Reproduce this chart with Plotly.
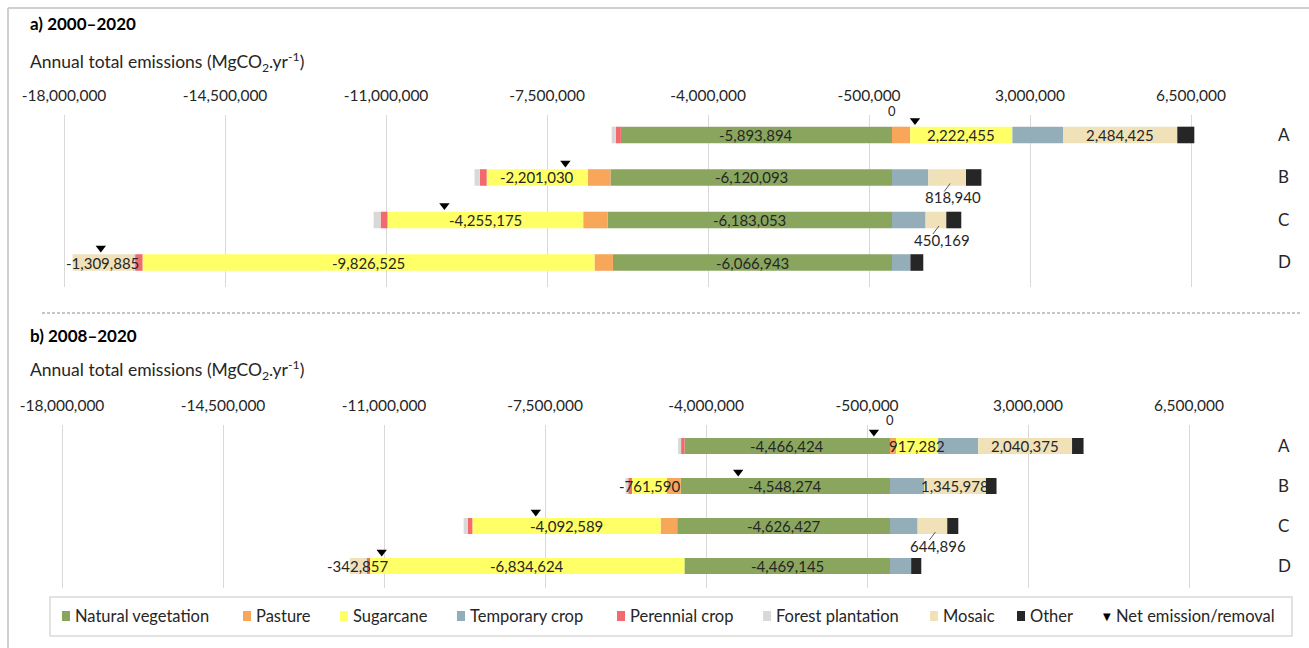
import plotly.graph_objects as go

W, H = 1309, 648

rows = ["A", "B", "C", "D"]
series = ["Natural vegetation", "Pasture", "Sugarcane", "Temporary crop",
          "Perennial crop", "Forest plantation", "Mosaic", "Other"]
colors = ["#8AA65E", "#F7A65A", "#FFFF66", "#93ADB9",
          "#F26A6E", "#D9D9D9", "#F0E1B8", "#262626"]

# Annual emissions by land-use class, 2000–2020 (MgCO2/yr)
natural_a = [-5893894, -6120093, -6183053, -6066943]
pasture_a = [395000, -490000, -530000, -400000]
sugarcane_a = [2222455, -2201030, -4255175, -9826525]
temporary_a = [1100000, 790000, 730000, 400000]
perennial_a = [-110000, -150000, -150000, -160000]
forest_a = [-90000, -115000, -150000, -50000]
mosaic_a = [2484425, 818940, 450169, -1309885]
other_a = [370000, 335000, 326000, 280000]
net_a = [500000, -7100000, -9730000, -17200000]

# Annual emissions by land-use class, 2008–2020 (MgCO2/yr)
natural_b = [-4466424, -4548274, -4626427, -4469145]
pasture_b = [130000, -300000, -360000, 0]
sugarcane_b = [917282, -761590, -4092589, -6834624]
temporary_b = [870000, 740000, 600000, 460000]
perennial_b = [-75000, -80000, -95000, -70000]
forest_b = [-65000, -60000, -95000, -30000]
mosaic_b = [2040375, 1345978, 644896, -342857]
other_b = [250000, 230000, 240000, 220000]
net_b = [-350000, -3300000, -7700000, -11050000]

tick_values = [-18000000, -14500000, -11000000, -7500000,
               -4000000, -500000, 3000000, 6500000]

panel_a = [natural_a, pasture_a, sugarcane_a, temporary_a,
           perennial_a, forest_a, mosaic_a, other_a]
panel_b = [natural_b, pasture_b, sugarcane_b, temporary_b,
           perennial_b, forest_b, mosaic_b, other_b]

FONT = "Lato"
TXT = "#262626"


def py(p):
    """pixel row -> paper y"""
    return 1 - p / H


def px(p):
    """pixel column -> paper x"""
    return p / W


PX_PER_UNIT = 46e-6          # horizontal scale: pixels per MgCO2
X_LEFT, X_RIGHT = 20, 1265   # plot area edges in pixels


def x_range(zero_px):
    return [(X_LEFT - zero_px) / PX_PER_UNIT, (X_RIGHT - zero_px) / PX_PER_UNIT]


panels = [
    dict(data=panel_a, net=net_a, xa="x", ya="y", zero=892,
         ydom=(287, 115), yrange=[3.576, -0.47], width=0.39, tri=0.34,
         title="a) 2000–2020", title_y=24, atitle_y=62, zero_y=111,
         leaders={1, 2}),
    dict(data=panel_b, net=net_b, xa="x2", ya="y2", zero=890,
         ydom=(588, 425), yrange=[3.55, -0.525], width=0.40, tri=0.35,
         title="b) 2008–2020", title_y=335, atitle_y=370, zero_y=420,
         leaders={2}),
]

fig = go.Figure()
annotations = []
shapes = []

for p in panels:
    for name, col, vals in zip(series, colors, p["data"]):
        fig.add_trace(go.Bar(
            x=vals, y=list(range(len(rows))), orientation="h",
            width=p["width"], name=name, marker=dict(color=col, line=dict(width=0)),
            xaxis=p["xa"], yaxis=p["ya"], showlegend=False,
            hovertemplate=name + ": %{x:,}<extra></extra>",
        ))
    fig.add_trace(go.Scatter(
        x=p["net"], y=[i - p["tri"] for i in range(len(rows))], mode="markers",
        marker=dict(symbol="triangle-down", size=9, color="#000000"),
        xaxis=p["xa"], yaxis=p["ya"], showlegend=False,
        name="Net emission/removal", hovertemplate="Net: %{x:,}<extra></extra>",
    ))

    # segment labels for natural vegetation, sugarcane and mosaic
    unit = 1 / PX_PER_UNIT
    row_px = (p["ydom"][0] - p["ydom"][1]) / (p["yrange"][0] - p["yrange"][1])
    for r in range(len(rows)):
        pos, neg = 0, 0
        for s, vals in enumerate(p["data"]):
            v = vals[r]
            if v >= 0:
                start = pos
                pos += v
            else:
                start = neg
                neg += v
            if s not in (0, 2, 6) or v == 0:
                continue
            c = start + v / 2
            label = f"{v:,}"
            if s == 6 and r in p["leaders"]:
                shapes.append(dict(type="line", xref=p["xa"], yref=p["ya"],
                                   x0=c + 3 * unit, y0=r + 6 / row_px,
                                   x1=c - 3 * unit, y1=r + 14 / row_px,
                                   line=dict(color="#595959", width=1)))
                annotations.append(dict(x=c + 6 * unit, y=r + 20 / row_px,
                                        xref=p["xa"], yref=p["ya"], text=label,
                                        showarrow=False, xanchor="center", yanchor="middle",
                                        font=dict(family=FONT, size=15, color=TXT)))
            else:
                annotations.append(dict(x=c, y=r, xref=p["xa"], yref=p["ya"], text=label,
                                        showarrow=False, xanchor="center", yanchor="middle",
                                        font=dict(family=FONT, size=15, color=TXT)))

    # panel headings
    annotations.append(dict(x=px(28), y=py(p["title_y"]), xref="paper", yref="paper",
                            text="<b>" + p["title"] + "</b>", showarrow=False,
                            xanchor="left", yanchor="middle",
                            font=dict(family=FONT, size=17, color="#000000")))
    annotations.append(dict(x=px(28), y=py(p["atitle_y"]), xref="paper", yref="paper",
                            text="Annual total emissions (MgCO<sub>2</sub>.yr<sup>-1</sup>)",
                            showarrow=False, xanchor="left", yanchor="middle",
                            font=dict(family=FONT, size=17.5, color=TXT)))
    annotations.append(dict(x=0, y=py(p["zero_y"]), xref=p["xa"], yref="paper",
                            text="0", showarrow=False, xanchor="center", yanchor="middle",
                            font=dict(family=FONT, size=13, color=TXT)))

axis_common = dict(
    tickvals=tick_values, ticktext=[f"{v:,}" for v in tick_values],
    side="top", showgrid=True, gridcolor="#D9D9D9", gridwidth=1,
    zeroline=False, showline=False, ticks="", ticklabelstandoff=10,
    tickfont=dict(family=FONT, size=15.5, color=TXT),
    domain=[px(X_LEFT), px(X_RIGHT)], fixedrange=True,
)
yaxis_common = dict(
    tickvals=list(range(len(rows))), ticktext=rows, side="right",
    showgrid=False, zeroline=False, showline=False, ticks="",
    ticklabelstandoff=12, tickfont=dict(family=FONT, size=17, color=TXT),
    fixedrange=True,
)

fig.update_layout(
    xaxis=dict(axis_common, range=x_range(892), anchor="y"),
    xaxis2=dict(axis_common, range=x_range(890), anchor="y2"),
    yaxis=dict(yaxis_common, domain=[py(287), py(115)], range=[3.576, -0.47], anchor="x"),
    yaxis2=dict(yaxis_common, domain=[py(588), py(425)], range=[3.55, -0.525], anchor="x2"),
)

# dashed separator between the two periods
shapes.append(dict(type="line", xref="paper", yref="paper",
                   x0=px(42), x1=px(1300), y0=py(313), y1=py(313),
                   line=dict(color="#8C8C8C", width=1, dash="3px,2px")))

# outer frame
shapes.append(dict(type="line", xref="paper", yref="paper",
                   x0=px(8), x1=px(1309), y0=py(8), y1=py(8),
                   line=dict(color="#CFCFCF", width=2)))
shapes.append(dict(type="line", xref="paper", yref="paper",
                   x0=px(8), x1=px(8), y0=py(8), y1=py(648),
                   line=dict(color="#CFCFCF", width=2)))

# legend
shapes.append(dict(type="rect", xref="paper", yref="paper",
                   x0=px(50), x1=px(1292), y0=py(636), y1=py(597),
                   line=dict(color="#D9D9D9", width=1.5), fillcolor="rgba(0,0,0,0)"))
legend_x = [66, 247, 344, 461, 621, 767, 934, 1021]
LEG_Y = 616
LEG_SIZE = 16.5
for name, col, lx in zip(series, colors, legend_x):
    shapes.append(dict(type="rect", xref="paper", yref="paper",
                       x0=px(lx - 4), x1=px(lx + 4), y0=py(LEG_Y + 5), y1=py(LEG_Y - 5),
                       line=dict(width=0), fillcolor=col))
    annotations.append(dict(x=px(lx + 7), y=py(LEG_Y), xref="paper", yref="paper",
                            text=name, showarrow=False, xanchor="left", yanchor="middle",
                            font=dict(family=FONT, size=LEG_SIZE, color=TXT)))
annotations.append(dict(x=px(1101), y=py(LEG_Y), xref="paper", yref="paper",
                        text="▼", showarrow=False, xanchor="left", yanchor="middle",
                        font=dict(family="DejaVu Sans", size=10, color="#000000")))
annotations.append(dict(x=px(1114), y=py(LEG_Y), xref="paper", yref="paper",
                        text="Net emission/removal", showarrow=False,
                        xanchor="left", yanchor="middle",
                        font=dict(family=FONT, size=LEG_SIZE, color=TXT)))

fig.update_layout(
    width=W, height=H, margin=dict(l=0, r=0, t=0, b=0),
    barmode="relative", paper_bgcolor="#FFFFFF", plot_bgcolor="#FFFFFF",
    showlegend=False, annotations=annotations, shapes=shapes,
    font=dict(family=FONT, color=TXT),
)

fig.write_html("out.html")
